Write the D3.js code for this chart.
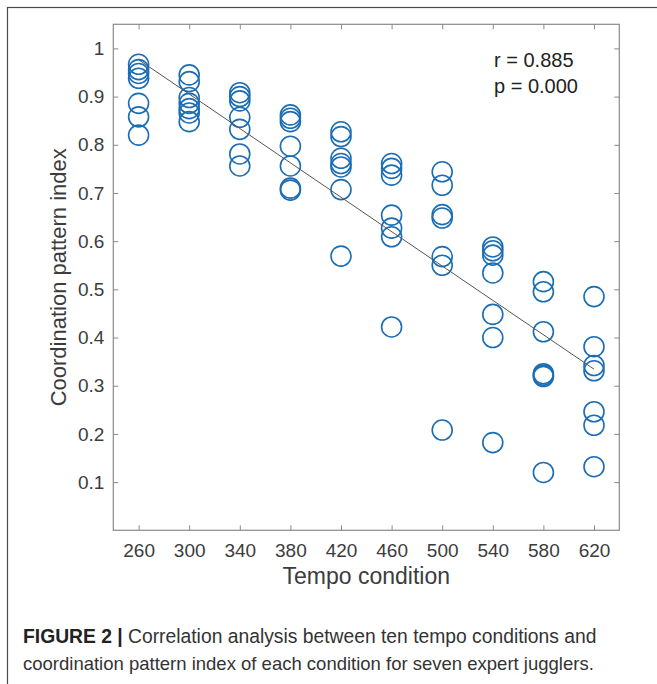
<!DOCTYPE html>
<meta charset="utf-8">
<title>Figure 2 - tempo vs coordination pattern index</title>

<style>
body {
  margin: 0px;
  background: #fff;
}
svg {
  display: block;
  font-family: "Liberation Sans", Arial, sans-serif;
}
.tick text {
  fill: #3c3c3c;
  font-size: 19px;
}
.tick line {
  stroke: #8a8a8a;
}
circle.juggler {
  fill: none;
  stroke: #1b6db5;
  stroke-width: 1.6;
}
</style>

<script src="https://d3js.org/d3.v7.min.js"></script>

<body>
<script>

// SVG size
var width = 657, height = 684;

// Tempo conditions (x axis)
var tempos = [260, 300, 340, 380, 420, 460, 500, 540, 580, 620];

// Coordination pattern index, seven expert jugglers per tempo condition
var cpi260 = [0.967, 0.956, 0.948, 0.938, 0.886, 0.858, 0.820];
var cpi300 = [0.945, 0.931, 0.898, 0.886, 0.875, 0.866, 0.848];
var cpi340 = [0.908, 0.900, 0.891, 0.857, 0.832, 0.781, 0.756];
var cpi380 = [0.862, 0.855, 0.848, 0.797, 0.756, 0.710, 0.706];
var cpi420 = [0.827, 0.817, 0.772, 0.761, 0.754, 0.707, 0.569];
var cpi460 = [0.761, 0.751, 0.737, 0.654, 0.627, 0.609, 0.422];
var cpi500 = [0.744, 0.716, 0.655, 0.648, 0.568, 0.550, 0.208];
var cpi540 = [0.588, 0.580, 0.571, 0.534, 0.448, 0.400, 0.182];
var cpi580 = [0.516, 0.495, 0.412, 0.325, 0.322, 0.319, 0.120];
var cpi620 = [0.485, 0.381, 0.342, 0.331, 0.246, 0.218, 0.132];

// Axis ticks
var yTicks = [0.1, 0.2, 0.3, 0.4, 0.5, 0.6, 0.7, 0.8, 0.9, 1];
var yTickLabels = ["0.1", "0.2", "0.3", "0.4", "0.5", "0.6", "0.7", "0.8", "0.9", "1"];

// Annotation and caption text
var statsText = ["r = 0.885", "p = 0.000"];
var captionBold = "FIGURE 2 |";
var captionLines = [" Correlation analysis between ten tempo conditions and",
                    "coordination pattern index of each condition for seven expert jugglers."];

var columns = [cpi260, cpi300, cpi340, cpi380, cpi420, cpi460, cpi500, cpi540, cpi580, cpi620];
var points = [];
columns.forEach(function(col, i) {
  col.forEach(function(v) { points.push({t: tempos[i], v: v}); });
});

var svg = d3.select("body").append("svg")
    .attr("width", width)
    .attr("height", height);

// outer figure frame (clipped right and bottom)
svg.append("rect")
  .attr("x", 7.5).attr("y", 7.5)
  .attr("width", 700).attr("height", 700)
  .attr("fill", "none")
  .attr("stroke", "#4a4a4a")
  .attr("stroke-width", 1.2);

// plot box
var boxL = 113.3, boxR = 619.3, boxT = 24.3, boxB = 530.3;

var x = d3.scaleLinear().domain([240, 640]).range([boxL, boxR]);
var y = d3.scaleLinear().domain([0, 1.05]).range([boxB, boxT]);

// bottom axis with labels
svg.append("g")
  .attr("transform", "translate(0," + boxB + ")")
  .call(d3.axisBottom(x).tickValues(tempos).tickSizeInner(-5).tickSizeOuter(0).tickPadding(13))
  .call(function(g) { g.select(".domain").remove(); });

// top axis, ticks only
svg.append("g")
  .attr("transform", "translate(0," + boxT + ")")
  .call(d3.axisTop(x).tickValues(tempos).tickSizeInner(-5).tickSizeOuter(0).tickFormat(""))
  .call(function(g) { g.select(".domain").remove(); });

// left axis with labels
svg.append("g")
  .attr("transform", "translate(" + boxL + ",0)")
  .call(d3.axisLeft(y).tickValues(yTicks).tickSizeInner(-5).tickSizeOuter(0).tickPadding(9)
          .tickFormat(function(d, i) { return yTickLabels[i]; }))
  .call(function(g) { g.select(".domain").remove(); });

// right axis, ticks only
svg.append("g")
  .attr("transform", "translate(" + boxR + ",0)")
  .call(d3.axisRight(y).tickValues(yTicks).tickSizeInner(-5).tickSizeOuter(0).tickFormat(""))
  .call(function(g) { g.select(".domain").remove(); });

svg.append("rect")
  .attr("x", boxL).attr("y", boxT)
  .attr("width", boxR - boxL).attr("height", boxB - boxT)
  .attr("fill", "none")
  .attr("stroke", "#8a8a8a")
  .attr("stroke-width", 1.2);

// data circles
svg.append("g").selectAll("circle")
    .data(points)
  .enter().append("circle")
    .attr("class", "juggler")
    .attr("cx", function(d) { return x(d.t); })
    .attr("cy", function(d) { return y(d.v); })
    .attr("r", 10);

// least squares fit line
var mt = d3.mean(points, function(d) { return d.t; });
var mv = d3.mean(points, function(d) { return d.v; });
var sxy = d3.sum(points, function(d) { return (d.t - mt) * (d.v - mv); });
var sxx = d3.sum(points, function(d) { return (d.t - mt) * (d.t - mt); });
var slope = sxy / sxx;
var ends = [tempos[0], tempos[tempos.length - 1]];

svg.append("path")
  .datum(ends)
  .attr("fill", "none")
  .attr("stroke", "#555")
  .attr("stroke-width", 1)
  .attr("d", d3.line()
    .x(function(d) { return x(d); })
    .y(function(d) { return y(mv + slope * (d - mt)); }));

// r and p text
svg.append("g").selectAll("text")
    .data(statsText)
  .enter().append("text")
    .attr("x", 494)
    .attr("y", function(d, i) { return 67 + i * 25.5; })
    .style("font-size", "20px")
    .attr("fill", "#222")
    .text(function(d) { return d; });

// axis titles
svg.append("text")
  .attr("x", (boxL + boxR) / 2)
  .attr("y", 584)
  .attr("text-anchor", "middle")
  .style("font-size", "23px")
  .attr("fill", "#3c3c3c")
  .text("Tempo condition");

svg.append("text")
  .attr("transform", "translate(66," + ((boxT + boxB) / 2) + ") rotate(-90)")
  .attr("text-anchor", "middle")
  .style("font-size", "22px")
  .attr("fill", "#3c3c3c")
  .text("Coordination pattern index");

// caption
var cap1 = svg.append("text")
  .attr("x", 23)
  .attr("y", 643)
  .style("font-size", "19.3px")
  .attr("fill", "#333");
cap1.append("tspan").style("font-weight", "bold").attr("fill", "#222").text(captionBold);
cap1.append("tspan").text(captionLines[0]);

svg.append("text")
  .attr("x", 23)
  .attr("y", 670)
  .style("font-size", "18.5px")
  .attr("fill", "#333")
  .text(captionLines[1]);

</script>
